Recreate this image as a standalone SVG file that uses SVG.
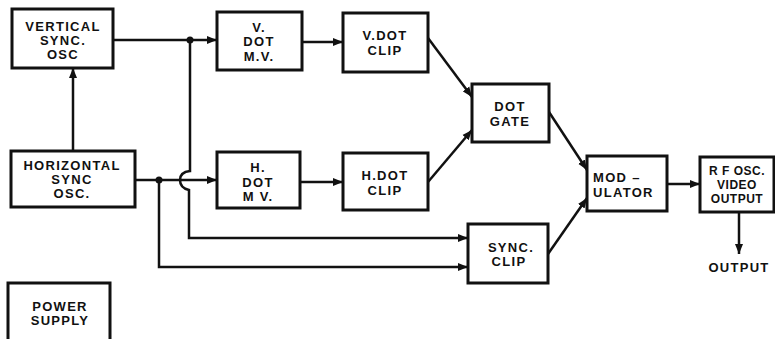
<svg xmlns="http://www.w3.org/2000/svg" width="775" height="339" viewBox="0 0 775 339">
<defs>
<style>
.box{fill:#fff;stroke:#111;stroke-width:3}
.t{font-family:"Liberation Sans",Arial,sans-serif;font-weight:bold;font-size:13px;letter-spacing:1.3px;fill:#111;text-anchor:middle}
.s{font-size:12px;letter-spacing:0.5px}
.w{fill:none;stroke:#111;stroke-width:2.5}
.dot{fill:#111}
</style>
<marker id="ah" markerUnits="userSpaceOnUse" markerWidth="11" markerHeight="9" refX="10" refY="4.5" orient="auto">
<path d="M0,0.5 L10,4.5 L0,8.5 z" fill="#111"/>
</marker>
</defs>
<rect width="775" height="339" fill="#fff"/>
<g id="connectors">
<path class="w" d="M113,40 H217" marker-end="url(#ah)"/>
<circle class="dot" cx="190" cy="40" r="3.5"/>
<path class="w" d="M302,42 H343" marker-end="url(#ah)"/>
<path class="w" d="M428,38 L472,97" marker-end="url(#ah)"/>
<path class="w" d="M428,182 L472,130" marker-end="url(#ah)"/>
<path class="w" d="M135,180 H217" marker-end="url(#ah)"/>
<circle class="dot" cx="159" cy="180" r="3.5"/>
<path class="w" d="M73,151 V68" marker-end="url(#ah)"/>
<path class="w" d="M300,182 H343" marker-end="url(#ah)"/>
<path class="w" d="M190,40 V171 Q180,172 180,180 Q180,188 189,190 V238 H468" marker-end="url(#ah)"/>
<path class="w" d="M159,180 V267 H468" marker-end="url(#ah)"/>
<path class="w" d="M549,112 L587,170" marker-end="url(#ah)"/>
<path class="w" d="M548,254 L587,198" marker-end="url(#ah)"/>
<path class="w" d="M667,184 H700" marker-end="url(#ah)"/>
<path class="w" d="M739,212 V254" marker-end="url(#ah)"/>
</g>
<g id="vsync">
<rect class="box" x="12" y="9" width="101" height="59"/>
<text class="t" x="63" y="31">VERTICAL</text>
<text class="t" x="63" y="45">SYNC.</text>
<text class="t" x="63" y="59">OSC</text>
</g>
<g id="hsync">
<rect class="box" x="11" y="151" width="124" height="56"/>
<text class="t" x="72" y="170">HORIZONTAL</text>
<text class="t" x="72" y="184">SYNC</text>
<text class="t" x="72" y="198">OSC.</text>
</g>
<g id="vdotmv">
<rect class="box" x="217" y="12" width="85" height="58"/>
<text class="t" x="259" y="32">V.</text>
<text class="t" x="259" y="46">DOT</text>
<text class="t" x="259" y="61">M.V.</text>
</g>
<g id="vdotclip">
<rect class="box" x="343" y="13" width="85" height="59"/>
<text class="t" x="385" y="40">V.DOT</text>
<text class="t" x="385" y="55">CLIP</text>
</g>
<g id="hdotmv">
<rect class="box" x="217" y="152" width="83" height="56"/>
<text class="t" x="258" y="172">H.</text>
<text class="t" x="258" y="187">DOT</text>
<text class="t" x="258" y="201">M V.</text>
</g>
<g id="hdotclip">
<rect class="box" x="343" y="153" width="85" height="57"/>
<text class="t" x="385" y="180">H.DOT</text>
<text class="t" x="385" y="195">CLIP</text>
</g>
<g id="dotgate">
<rect class="box" x="472" y="84" width="77" height="58"/>
<text class="t" x="510" y="111">DOT</text>
<text class="t" x="510" y="126">GATE</text>
</g>
<g id="syncclip">
<rect class="box" x="468" y="224" width="80" height="59"/>
<text class="t" x="511" y="252">SYNC.</text>
<text class="t" x="509" y="266">CLIP</text>
</g>
<g id="modulator">
<rect class="box" x="587" y="156" width="80" height="55"/>
<text class="t" x="593" y="182" style="text-anchor:start">MOD –</text>
<text class="t" x="593" y="197" style="text-anchor:start">ULATOR</text>
</g>
<g id="rfosc">
<rect class="box" x="700" y="157" width="74" height="55"/>
<text class="t s" x="737" y="175">R F OSC.</text>
<text class="t s" x="737" y="189">VIDEO</text>
<text class="t s" x="737" y="203">OUTPUT</text>
</g>
<g id="output">
<text class="t" x="739" y="272">OUTPUT</text>
</g>
<g id="power">
<rect class="box" x="8" y="283" width="102" height="62"/>
<text class="t" x="60" y="311">POWER</text>
<text class="t" x="60" y="325">SUPPLY</text>
</g>
</svg>
